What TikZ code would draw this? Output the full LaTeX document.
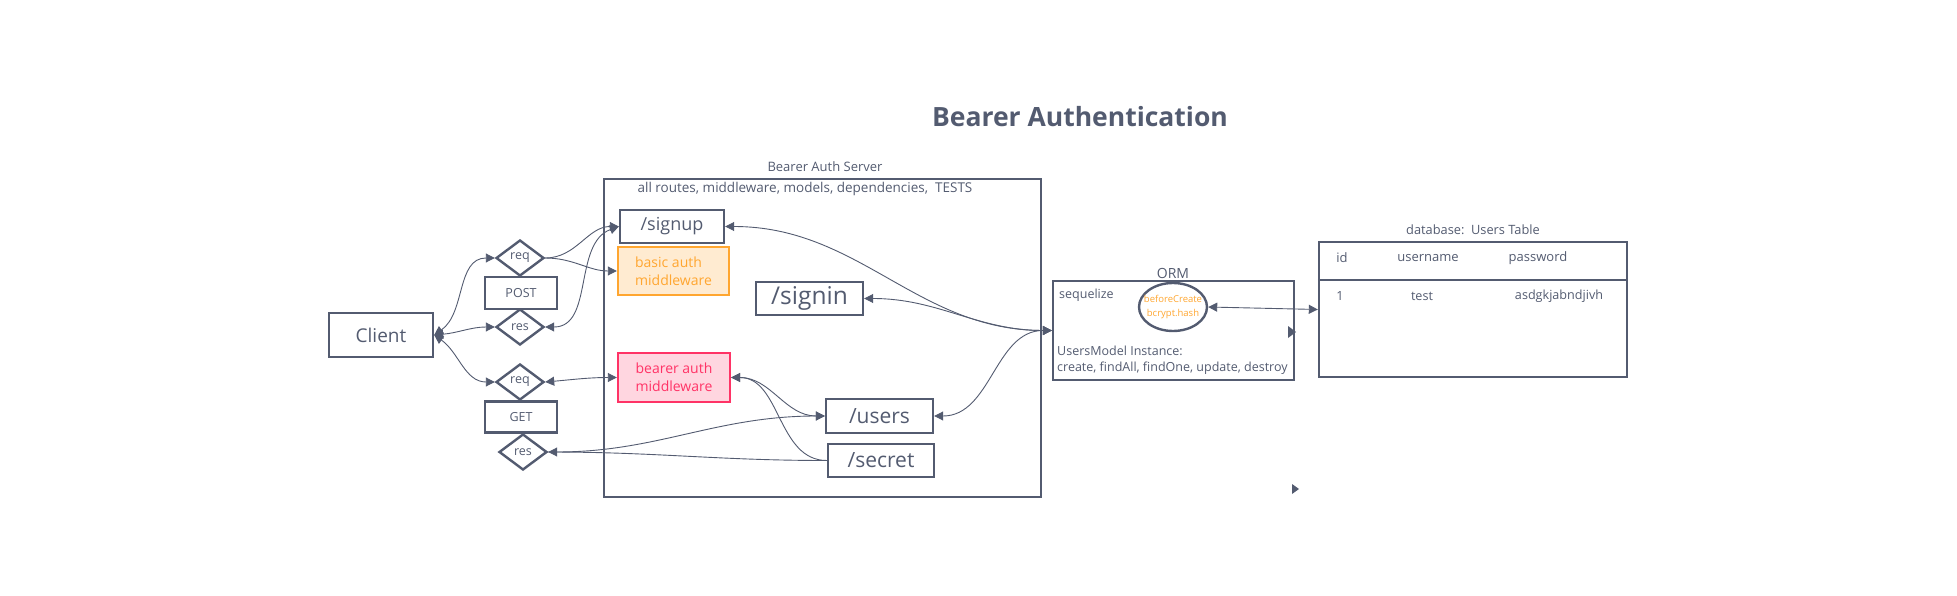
\documentclass[tikz,border=0pt]{standalone}
\usepackage{fontspec}
\setmainfont{Open Sans}
\usetikzlibrary{arrows.meta,shapes.geometric}
\definecolor{ink}{RGB}{83,91,112}
\definecolor{amber}{RGB}{255,166,48}
\definecolor{amberfill}{RGB}{255,235,209}
\definecolor{rose}{RGB}{255,51,102}
\definecolor{rosefill}{RGB}{255,214,224}

\begin{document}
\begin{tikzpicture}[x=1pt, y=-1pt,
		>={Triangle[length=9pt,width=9pt]},
		block/.style={draw=ink, line width=2.4pt, text=ink, inner sep=0pt},
		gate/.style={diamond, aspect=1.33, draw=ink, line width=2.4pt, text=ink, inner sep=0pt,
				minimum width=48pt, minimum height=36pt, font=\fontsize{12.5}{14}\selectfont},
		link/.style={draw=ink, line width=0.9pt},
		txt/.style={text=ink, inner sep=0pt, font=\fontsize{12.5}{14}\selectfont}
	]

	\useasboundingbox (0,0) rectangle (1957,596);

	% Title
	\node[txt, font=\fontsize{26.5}{30}\selectfont\bfseries] (title) at (1080,117) {Bearer Authentication};

	% Client side with request and response gates
	\node[block, minimum width=104pt, minimum height=44pt, font=\fontsize{19}{22}\selectfont] (client) at (381,335) {Client};
	\node[gate] (postreq) at (520,258) {req};
	\node[block, minimum width=72pt, minimum height=32pt, font=\fontsize{12.5}{14}\selectfont] (post) at (521,293) {POST};
	\node[gate] (postres) at (520,327) {res};
	\node[gate] (getreq) at (520,382) {req};
	\node[block, minimum width=72pt, minimum height=31pt, font=\fontsize{12.5}{14}\selectfont] (get) at (521,417) {GET};
	\node[gate] (getres) at (523,452) {res};

	% Server with its routes and middleware
	\node[block, minimum width=437pt, minimum height=318pt] (server) at (822.5,338) {};
	\node[txt, font=\fontsize{13}{15}\selectfont] (servername) at (825,167) {Bearer Auth Server};
	\node[txt, font=\fontsize{13.5}{15}\selectfont] (servernote) at (805,189) {all routes, middleware, models, dependencies,\ \ TESTS};
	\node[block, minimum width=104pt, minimum height=33pt, font=\fontsize{18}{20}\selectfont] (signup) at (672,226.5) {/signup};
	\node[block, draw=amber, fill=amberfill, text=amber, align=left, minimum width=111pt, minimum height=48pt,
		font=\fontsize{14}{18}\selectfont] (basic) at (673.5,271) {basic auth\\middleware};
	\node[block, minimum width=107pt, minimum height=33pt, font=\fontsize{24.5}{26}\selectfont] (signin) at (809.5,298.5) {/signin};
	\node[block, draw=rose, fill=rosefill, text=rose, align=left, minimum width=112pt, minimum height=49pt,
		font=\fontsize{14}{18}\selectfont] (bearer) at (674,377.5) {bearer auth\\middleware};
	\node[block, minimum width=107pt, minimum height=34pt, font=\fontsize{21}{23}\selectfont] (users) at (879.5,416) {/users};
	\node[block, minimum width=106pt, minimum height=33pt, font=\fontsize{21}{23}\selectfont] (secret) at (881,460.5) {/secret};

	% ORM
	\node[block, minimum width=241pt, minimum height=99pt] (orm) at (1173.5,330.5) {};
	\node[txt, font=\fontsize{14}{15}\selectfont] (ormname) at (1173,273) {ORM};
	\node[txt, anchor=west] (sequelize) at (1059,295) {sequelize};
	\node[ellipse, draw=ink, line width=2.4pt, minimum width=68pt, minimum height=48pt] (hook) at (1173,307) {};
	\node[txt, text=amber, align=center, font=\fontsize{9.5}{13.5}\selectfont] (hooktext) at (hook) {beforeCreate\\bcrypt.hash};
	\node[txt, anchor=west] (model) at (1057,351) {UsersModel Instance:};
	\node[txt, anchor=west] (methods) at (1057,368) {create, findAll, findOne, update, destroy};
	\fill[ink] (1288,326) -- (1296,332) -- (1288,338) -- cycle;

	% Users table
	\node[block, minimum width=308pt, minimum height=135pt] (table) at (1473,309.5) {};
	\draw[ink, line width=2.4pt] (table.west |- 0,280) -- (table.east |- 0,280);
	\node[txt, font=\fontsize{12.8}{14}\selectfont] (tablename) at (1473,230) {database:\ \ Users Table};
	\foreach \name/\text/\x/\y/\size in {
			colid/id/1342/258/13,
			colname/username/1428/258/13,
			colpass/password/1538/258/13,
			cellid/1/1340/296/12.6,
			cellname/test/1422/296/12.6,
			cellpass/asdgkjabndjivh/1559/296/12.6
		} {
			\node[txt, font=\fontsize{\size}{14}\selectfont] (\name) at (\x,\y) {\text};
		}

	\fill[ink] (1292,484) -- (1299,489) -- (1292,494) -- cycle;

	% Connectors
	\draw[link, <->] (client.east) to[out=35, in=180] (postreq.west);
	\draw[link, <->] (client.east) to[out=5, in=180] (postres.west);
	\draw[link, <->] (client.east) to[out=-35, in=180] (getreq.west);
	\draw[link, ->] (postreq.east) to[out=0, in=180] (signup.west);
	\draw[link, ->] (postreq.east) to[out=0, in=180] (basic.west);
	\draw[link, <->] (postres.east) to[out=0, in=200] (signup.west);
	\draw[link, <->] (getreq.east) to[out=5, in=180] (bearer.west);
	\draw[link, <->] (getres.east) to[out=0, in=180] (users.west);
	\draw[link] (getres.east) to[out=0, in=180] (secret.west);
	\draw[link, <->] (bearer.east) to[out=0, in=180] (users.west);
	\draw[link, <-] (bearer.east) to[out=0, in=180] (secret.west);
	\draw[link, <->] (signup.east) to[out=0, in=180] (orm.west);
	\draw[link, <->] (signin.east) to[out=0, in=180] (orm.west);
	\draw[link, <->] (users.east) to[out=0, in=180] (orm.west);
	\draw[link, <->] (hook.east) -- (table.west);

\end{tikzpicture}
\end{document}
